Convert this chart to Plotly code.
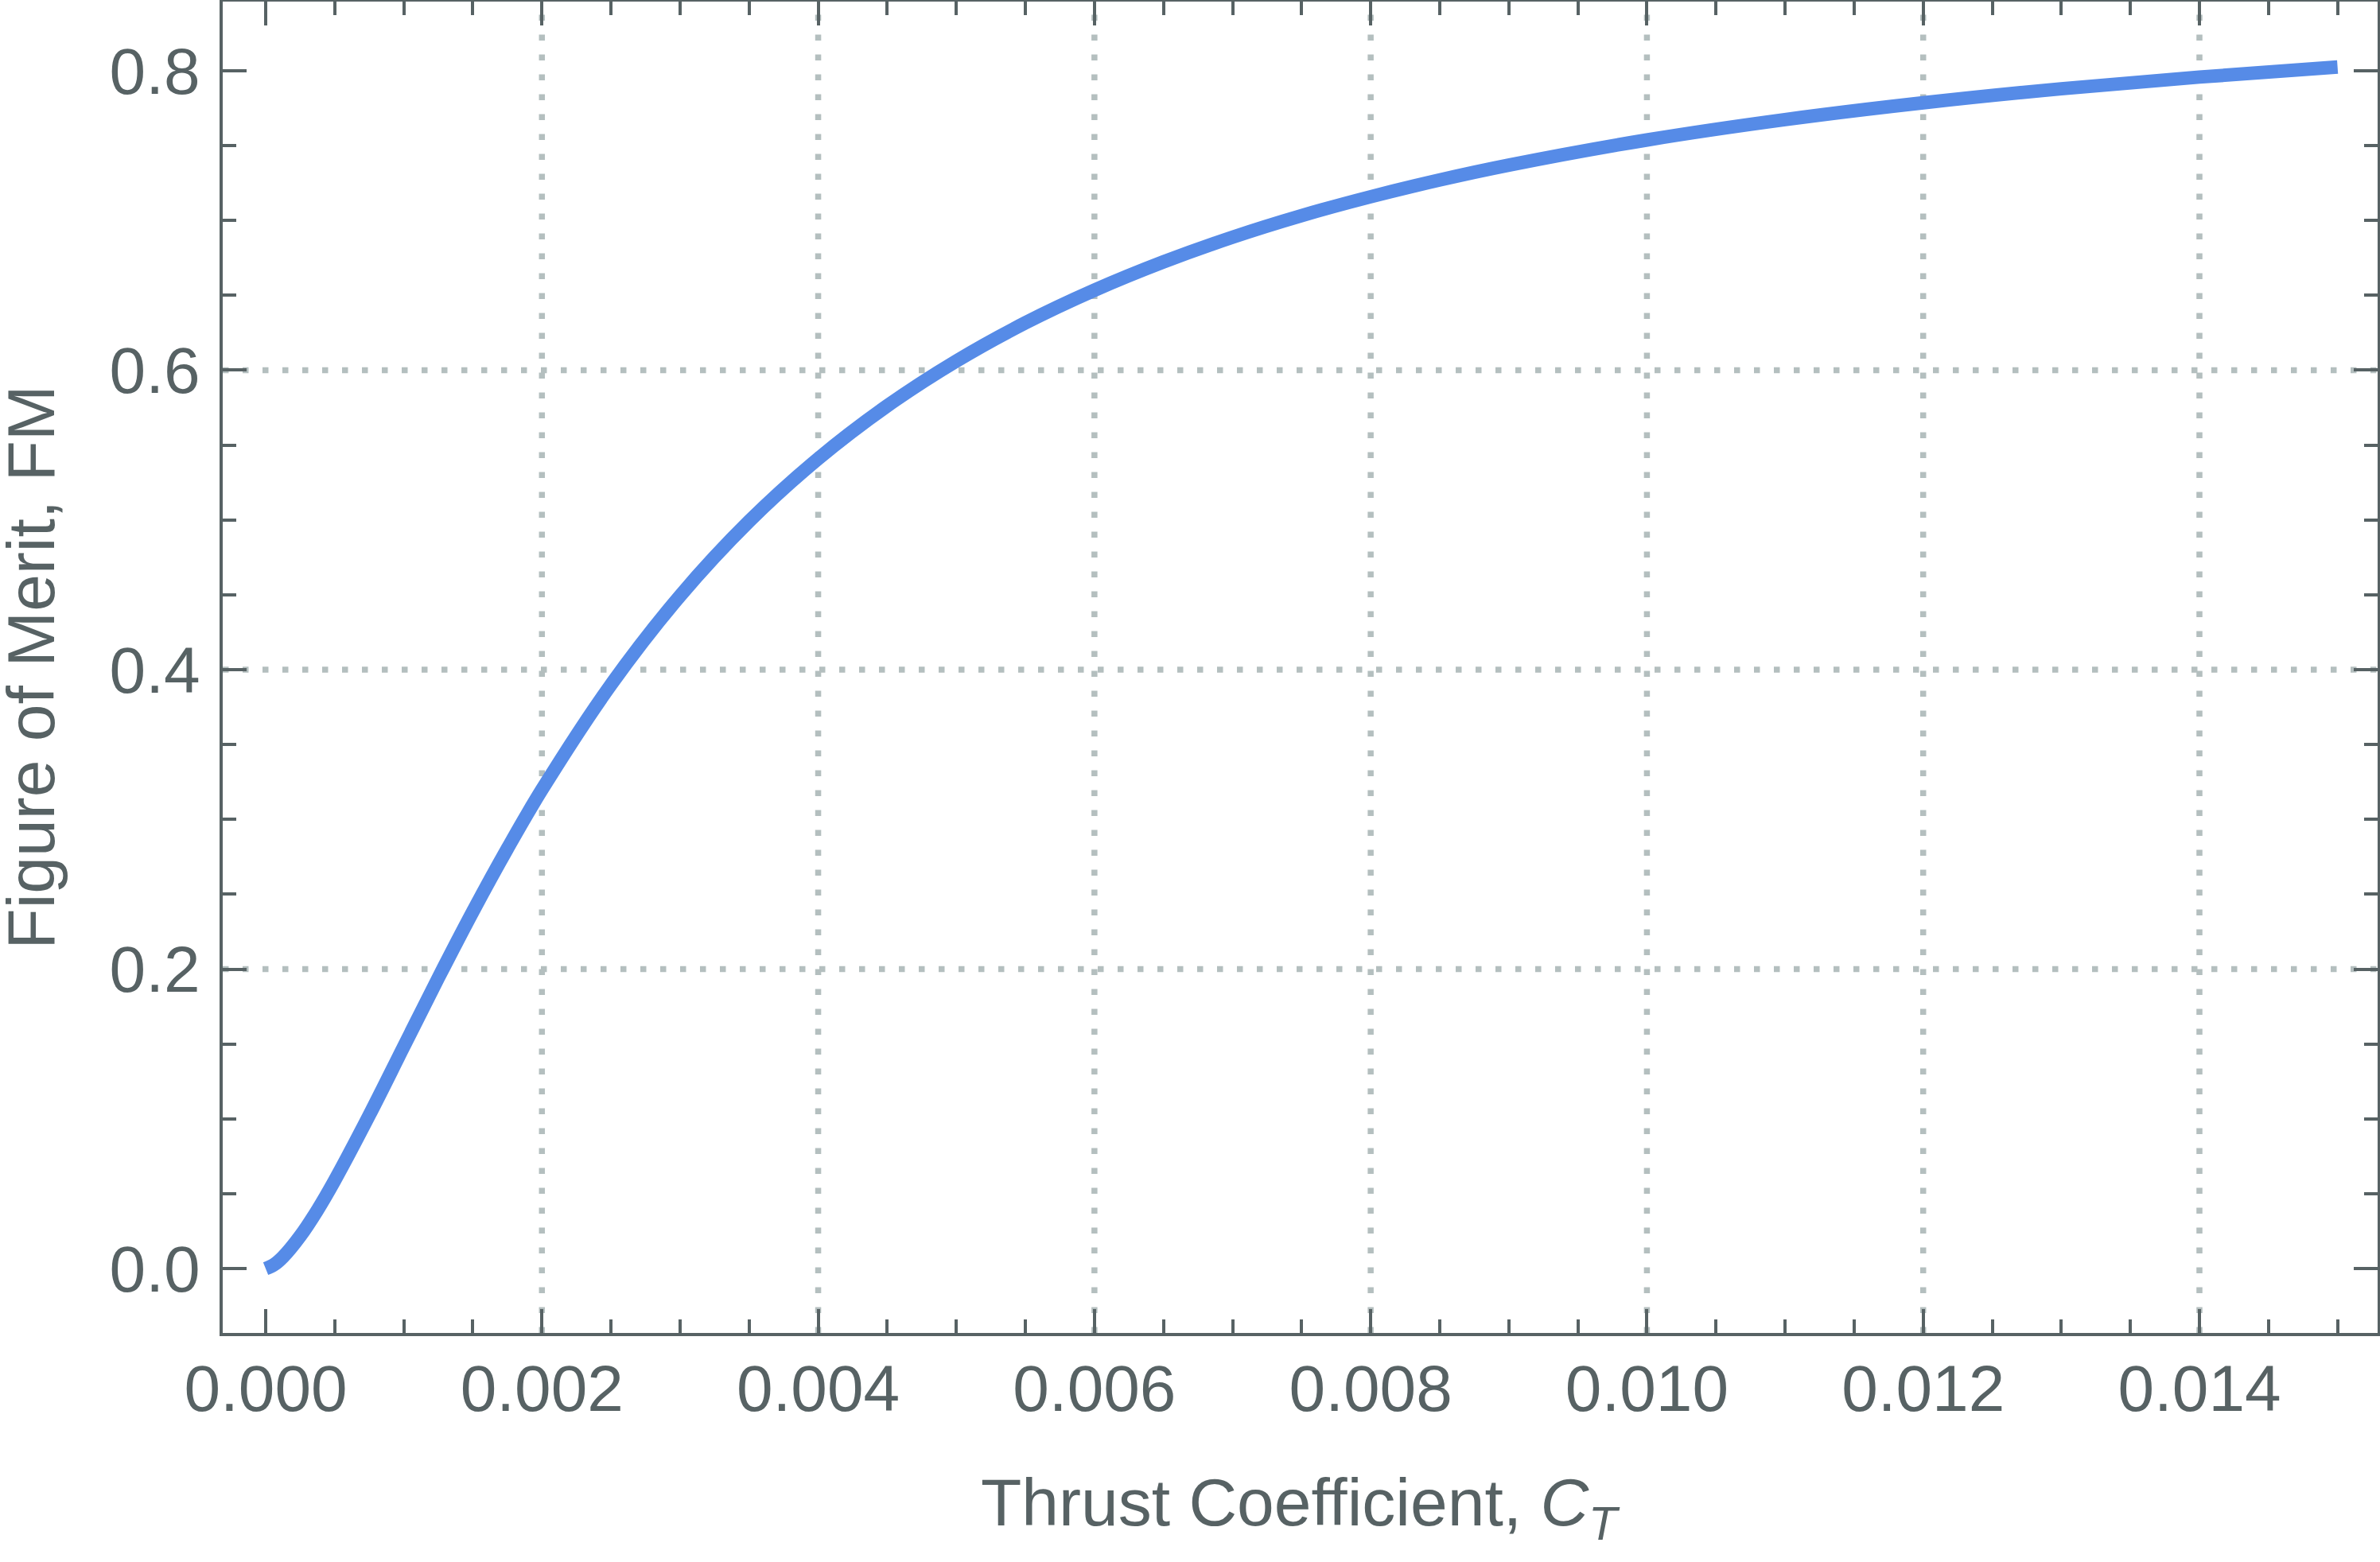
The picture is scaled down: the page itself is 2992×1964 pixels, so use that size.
import plotly.graph_objects as go

# ── data ────────────────────────────────────────────────────────────────────
thrust_coeff = [0.0, 0.0000625, 0.000125, 0.00025, 0.000375, 0.0005, 0.00075,
                0.001, 0.00125, 0.0015, 0.00175, 0.002, 0.0025, 0.003, 0.0035,
                0.004, 0.0045, 0.005, 0.0055, 0.006, 0.0065, 0.007, 0.0075,
                0.008, 0.0085, 0.009, 0.010, 0.011, 0.012, 0.013, 0.014, 0.015]
figure_of_merit = [0.0, 0.0028, 0.0078, 0.0218, 0.0392, 0.0590, 0.1025,
                   0.1484, 0.1942, 0.2385, 0.2805, 0.3199, 0.3900, 0.4493,
                   0.4991, 0.5409, 0.5762, 0.6061, 0.6316, 0.6534, 0.6723,
                   0.6888, 0.7032, 0.7158, 0.7270, 0.7369, 0.7537, 0.7673,
                   0.7785, 0.7879, 0.7957, 0.8024]

x_grid = [0.002, 0.004, 0.006, 0.008, 0.010, 0.012, 0.014]
y_grid = [0.2, 0.4, 0.6]

x_range = [-0.000311, 0.01529]
y_range = [-0.0429, 0.8461]

# ── style ───────────────────────────────────────────────────────────────────
ink = "#576264"
grid_col = "#b4bfbf"
line_col = "#568be7"
font = "Liberation Sans"

fig = go.Figure()

fig.add_trace(go.Scatter(
    x=thrust_coeff,
    y=figure_of_merit,
    mode="lines",
    line=dict(color=line_col, width=17, shape="spline", smoothing=1.0),
    showlegend=False,
    hoverinfo="skip",
))

# dotted grid lines (only at the interior major ticks, like the original)
for gx in x_grid:
    fig.add_shape(type="line", xref="x", yref="paper", x0=gx, x1=gx, y0=0, y1=1,
                  line=dict(color=grid_col, width=7.5, dash="7.5px,17.5px"),
                  layer="below")
for gy in y_grid:
    fig.add_shape(type="line", xref="paper", yref="y", x0=0, x1=1, y0=gy, y1=gy,
                  line=dict(color=grid_col, width=7.5, dash="7.5px,17.5px"),
                  layer="below")

axis_common = dict(
    showline=True, linecolor=ink, linewidth=4, mirror="ticks",
    ticks="inside", ticklen=30, tickwidth=4, tickcolor=ink,
    showgrid=False, zeroline=False, automargin=False,
    tickfont=dict(family=font, size=82, color=ink),
)

fig.update_xaxes(
    range=x_range, tick0=0, dtick=0.002, tickformat=".3f",
    minor=dict(ticks="inside", ticklen=17, tickwidth=4, tickcolor=ink,
               dtick=0.0005, tick0=0, showgrid=False),
    ticklabelstandoff=-4,
    **axis_common,
)
fig.update_yaxes(
    range=y_range, tick0=0, dtick=0.2, tickformat=".1f",
    minor=dict(ticks="inside", ticklen=17, tickwidth=4, tickcolor=ink,
               dtick=0.05, tick0=0, showgrid=False),
    ticklabelstandoff=8,
    **axis_common,
)

fig.add_annotation(
    text="Thrust Coefficient, <i>C</i><sub><i>T</i></sub>",
    xref="paper", yref="paper", x=0.5, y=-0.1308,
    xanchor="center", yanchor="middle", showarrow=False,
    font=dict(family=font, size=84, color=ink),
)
fig.add_annotation(
    text="Figure of Merit, FM",
    xref="paper", yref="paper", x=-0.0891, y=0.5, textangle=-90,
    xanchor="center", yanchor="middle", showarrow=False,
    font=dict(family=font, size=84, color=ink),
)

fig.update_layout(
    width=2992, height=1964,
    margin=dict(l=280, r=3, t=2, b=288),
    plot_bgcolor="white", paper_bgcolor="white",
)

# drop the browser's default 8px body margin so the figure sits at (0, 0)
fig.write_html("out.html", config={"displayModeBar": False},
               post_script="document.body.style.margin='0';")
